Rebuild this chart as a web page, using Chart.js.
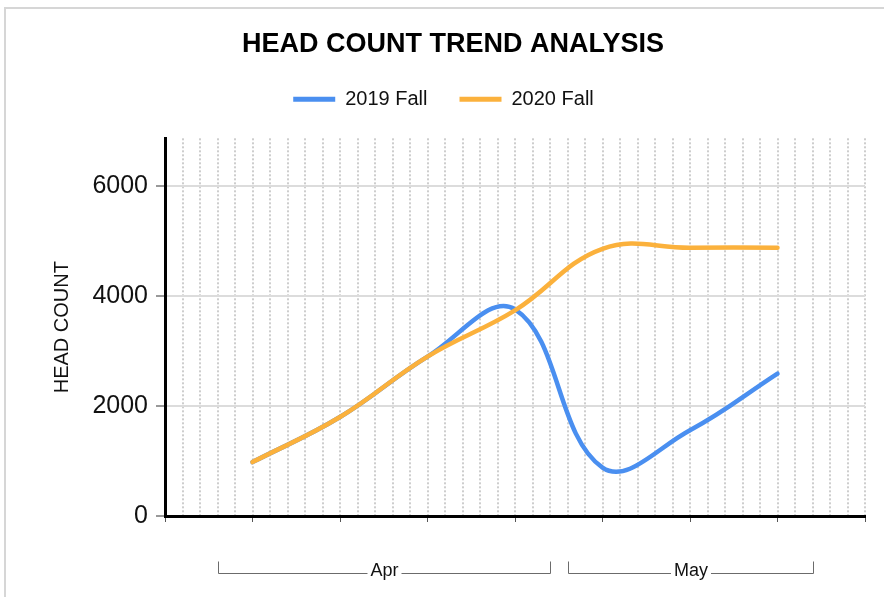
<!DOCTYPE html>
<html>
<head>
<meta charset="utf-8">
<script src="https://cdn.jsdelivr.net/npm/chart.js@4.4.1/dist/chart.umd.min.js"></script>
<style>
  html, body { margin: 0; padding: 0; background: #fff; overflow: hidden; }
  #frame { position: absolute; left: 4px; top: 7px; border: 2px solid #d6d6d6; width: 894px; height: 600px; }
  canvas { display: block; }
</style>
</head>
<body>
<div id="frame"><canvas id="chart" width="894" height="588"></canvas></div>
<script>
// one entry per plotted point, x position is index + 1
const pointMonths = ['Apr', 'Apr', 'Apr', 'Apr', 'May', 'May', 'May'];
const fall2019 = [980, 1800, 2900, 3760, 880, 1560, 2590];
const fall2020 = [980, 1800, 2900, 3740, 4860, 4880, 4880];
const yTicks = [0, 2000, 4000, 6000];
const yMax = 6870;

const toPoints = arr => arr.map((v, i) => ({ x: i + 1, y: v }));

Chart.defaults.font.family = '"Liberation Sans", Arial, sans-serif';
Chart.defaults.color = '#111';

// bracketed month labels under the x axis
const monthGroups = {
  id: 'monthGroups',
  afterDraw(chart) {
    const xs = chart.scales.x;
    const ctx = chart.ctx;
    const base = chart.chartArea.bottom;
    const groups = [];
    pointMonths.forEach((m, i) => {
      const g = groups[groups.length - 1];
      if (g && g.label === m) g.last = i + 1;
      else groups.push({ label: m, first: i + 1, last: i + 1 });
    });
    ctx.save();
    ctx.font = '18px "Liberation Sans", Arial, sans-serif';
    ctx.textAlign = 'center';
    ctx.textBaseline = 'middle';
    const yTop = Math.round(base + 45) + 0.5;
    const yLine = Math.round(base + 57) + 0.5;
    groups.forEach(g => {
      const l = Math.round(xs.getPixelForValue(g.first - 0.4)) + 0.5;
      const r = Math.round(xs.getPixelForValue(g.last + 0.4)) + 0.5;
      const c = (l + r) / 2;
      const w = ctx.measureText(g.label).width;
      ctx.strokeStyle = '#6b6b6b';
      ctx.lineWidth = 1;
      ctx.beginPath();
      ctx.moveTo(l, yTop); ctx.lineTo(l, yLine); ctx.lineTo(c - w / 2 - 3, yLine);
      ctx.moveTo(c + w / 2 + 3, yLine); ctx.lineTo(r, yLine); ctx.lineTo(r, yTop);
      ctx.stroke();
      ctx.fillStyle = '#111';
      ctx.fillText(g.label, c, base + 55.5);
    });
    ctx.restore();
  }
};

// extra room under the legend, and nudge it a bit left
const legendSpace = {
  id: 'legendSpace',
  beforeInit(chart) {
    const fit = chart.legend.fit;
    chart.legend.fit = function() {
      fit.bind(chart.legend)();
      this.height += 19;
    };
  },
  afterLayout(chart) {
    chart.legend.left -= 19;
  }
};

new Chart(document.getElementById('chart'), {
  type: 'line',
  data: {
    datasets: [
      {
        label: '2019 Fall',
        data: toPoints(fall2019),
        borderColor: '#4a8ff0',
        backgroundColor: '#4a8ff0',
        borderWidth: 4.5,
        borderCapStyle: 'round',
        tension: 0.4,
        pointRadius: 0,
        order: 1
      },
      {
        label: '2020 Fall',
        data: toPoints(fall2020),
        borderColor: '#fbb13c',
        backgroundColor: '#fbb13c',
        borderWidth: 4.5,
        borderCapStyle: 'round',
        tension: 0.4,
        pointRadius: 0,
        order: 0
      }
    ]
  },
  options: {
    responsive: false,
    animation: false,
    layout: { padding: 0 },
    plugins: {
      title: {
        display: true,
        text: 'HEAD COUNT TREND ANALYSIS',
        font: { size: 27, weight: 'bold' },
        color: '#000',
        padding: { top: 19, bottom: -3.1 }
      },
      legend: {
        labels: {
          boxWidth: 42,
          boxHeight: 5,
          padding: 32,
          font: { size: 20 },
          color: '#111',
          sort: (a, b) => a.datasetIndex - b.datasetIndex,
          generateLabels: chart => Chart.defaults.plugins.legend.labels.generateLabels(chart)
            .map(l => Object.assign(l, { fillStyle: l.strokeStyle, lineWidth: 0 }))
        }
      },
      tooltip: { enabled: false }
    },
    scales: {
      x: {
        type: 'linear',
        position: 'bottom',
        min: 0,
        max: 8,
        ticks: { display: false, stepSize: 1 },
        grid: { drawOnChartArea: false, drawTicks: true, tickLength: 6, tickColor: '#555' },
        border: { display: true, color: '#000', width: 3 },
        afterFit: s => { s.height = 81; }
      },
      xg: {
        type: 'linear',
        position: 'bottom',
        min: 0,
        max: 8,
        ticks: { display: false, stepSize: 0.2 },
        grid: { color: '#cdcdcd', lineWidth: 2, drawTicks: false },
        border: { display: false, dash: [2, 2] }
      },
      y: {
        min: 0,
        max: yMax,
        afterBuildTicks: s => { s.ticks = yTicks.map(v => ({ value: v })); },
        ticks: { font: { size: 25 }, color: '#111', padding: 8, callback: v => String(v) },
        grid: { color: '#dcdcdc', lineWidth: 2, tickLength: 9, tickColor: '#999', tickWidth: 2 },
        border: { display: true, color: '#000', width: 3 },
        title: {
          display: true,
          text: 'HEAD COUNT',
          font: { size: 20 },
          color: '#111',
          padding: { top: 44, bottom: 0 }
        },
        afterFit: s => { s.width = 159; }
      },
      // empty strip on the right of the plot
      pad: {
        type: 'linear',
        position: 'right',
        min: 0,
        max: 1,
        ticks: { display: false },
        grid: { display: false },
        border: { display: false },
        afterFit: s => { s.width = 35; }
      }
    }
  },
  plugins: [monthGroups, legendSpace]
});
</script>
</body>
</html>
